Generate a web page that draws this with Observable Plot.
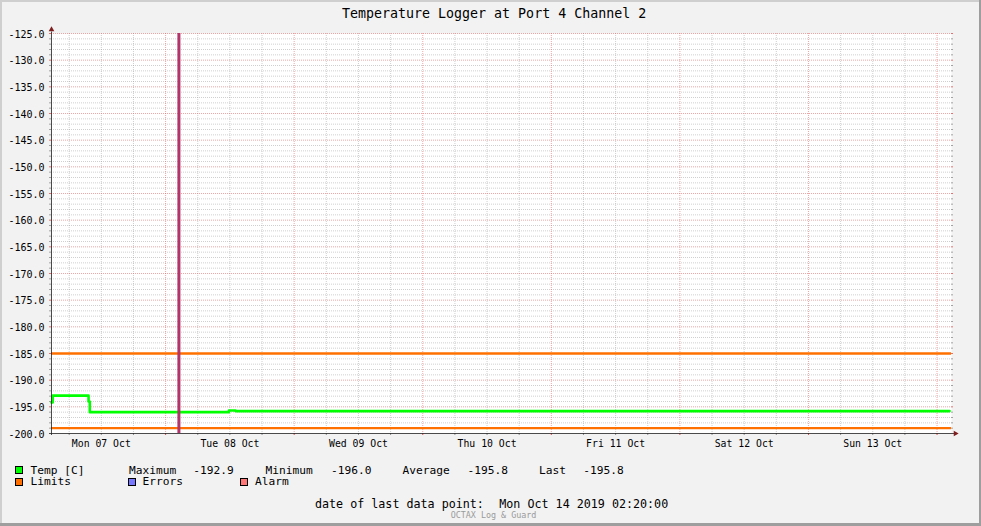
<!DOCTYPE html>
<html><head><meta charset="utf-8">
<script src="https://cdn.jsdelivr.net/npm/d3@7"></script>
<script src="https://cdn.jsdelivr.net/npm/@observablehq/plot@0.6"></script>
<style>
html,body{margin:0;padding:0;background:#f2f2f2;}
#page{position:relative;width:981px;height:526px;background:#f2f2f2;overflow:hidden;font-family:"DejaVu Sans Mono",monospace;color:#000;}
#page svg{position:absolute;left:0;top:0;}
#page svg text{font-family:"DejaVu Sans Mono",monospace !important;}
.t{position:absolute;white-space:pre;line-height:1;}
.sw{position:absolute;width:6px;height:6px;border:1px solid #000;}
.b{position:absolute;}
</style></head><body><div id="page"></div>
<script>
// ---- data ----
const title = "Temperature Logger at Port 4 Channel 2";
const xDomain = ["2019-10-07T02:42Z", "2019-10-14T02:42Z"];
const yDomain = [-200, -125];
const tempTimes = ["2019-10-07T02:42Z", "2019-10-07T02:55Z", "2019-10-07T09:37Z", "2019-10-07T09:51Z", "2019-10-08T11:49Z", "2019-10-08T13:04Z", "2019-10-14T02:20Z"];
const tempValues = [-194.2, -192.9, -194.0, -196.0, -195.7, -195.8, -195.8];
const limitValues = [-185.0, -199.0];
const markerTimes = ["2019-10-08T02:29Z"];
const yTickLabels = [-200, -195, -190, -185, -180, -175, -170, -165, -160, -155, -150, -145, -140, -135, -130, -125];
const dayTicks = ["2019-10-07T12:00Z", "2019-10-08T12:00Z", "2019-10-09T12:00Z", "2019-10-10T12:00Z", "2019-10-11T12:00Z", "2019-10-12T12:00Z", "2019-10-13T12:00Z"];
const dayLabels = ["Mon 07 Oct", "Tue 08 Oct", "Wed 09 Oct", "Thu 10 Oct", "Fri 11 Oct", "Sat 12 Oct", "Sun 13 Oct"];
const legendNames = ["Temp [C]", "Limits", "Errors", "Alarm"];
const legendColors = ["#00ff00", "#ff7000", "#7878ff", "#ff7878"];
const statNames = ["Maximum", "Minimum", "Average", "Last"];
const statValues = ["-192.9", "-196.0", "-195.8", "-195.8"];
const lastDataPoint = "Mon Oct 14 2019 02:20:00";
const footer = "OCTAX Log & Guard";

// ---- build ----
const FONT = "DejaVu Sans Mono";
const t0 = new Date(xDomain[0]), t1 = new Date(xDomain[1]);
const plotW = 900, plotH = 400;
const msPerPx = (t1 - t0) / plotW;
const unitPerPx = (yDomain[1] - yDomain[0]) / plotH;
const temp = tempTimes.map((t, i) => ({t: new Date(t), v: tempValues[i]}));
const allY = d3.range(yDomain[0], yDomain[1] + 1);
const minorY = allY.filter(v => v % 5 !== 0 && v !== yDomain[0]);
const majorY = allY.filter(v => v % 5 === 0 && v !== yDomain[0]);
const hours = d3.utcHour.every(6).range(t0, t1);
const midn = hours.filter(d => d.getUTCHours() === 0);
const six = hours.filter(d => d.getUTCHours() !== 0);
const dt = px => new Date(+t0 + px * msPerPx);
const tEnd = px => new Date(+t1 + px * msPerPx);

const gridGray = {stroke: "#8f8f8f", strokeOpacity: 0.42, strokeDasharray: "1,1"};
const gridRed = {stroke: "#de5050", strokeOpacity: 0.5, strokeDasharray: "1,1"};

const chart = Plot.plot({
  width: 981, height: 460,
  marginLeft: 51, marginRight: 30, marginTop: 33, marginBottom: 27,
  style: {background: "transparent", fontFamily: FONT, color: "#000", overflow: "visible"},
  x: {type: "utc", domain: [t0, t1], axis: null},
  y: {domain: yDomain, axis: null},
  marks: [
    Plot.frame({fill: "white", stroke: null}),
    Plot.ruleY(minorY, gridGray),
    Plot.ruleX(six, gridGray),
    Plot.ruleY(majorY, gridRed),
    Plot.ruleX(midn, gridRed),
    // tick marks
    Plot.ruleY(minorY, {x1: dt(-2), x2: t0, stroke: "#8f8f8f", strokeOpacity: 0.8}),
    Plot.ruleY(minorY, {x1: t1, x2: tEnd(2), stroke: "#8f8f8f", strokeOpacity: 0.8}),
    Plot.ruleY(majorY, {x1: dt(-2), x2: t0, stroke: "#de5050", strokeOpacity: 0.8}),
    Plot.ruleY(majorY, {x1: t1, x2: tEnd(2), stroke: "#de5050", strokeOpacity: 0.8}),
    Plot.ruleX(six, {y1: yDomain[0] - 2 * unitPerPx, y2: yDomain[0], stroke: "#8f8f8f"}),
    Plot.ruleX(midn, {y1: yDomain[0] - 2 * unitPerPx, y2: yDomain[0], stroke: "#de5050"}),
    // data
    Plot.ruleY(limitValues, {stroke: "#ff7000", strokeWidth: 2.4}),
    Plot.line(temp, {x: "t", y: "v", curve: "step-after", stroke: "#00ff00", strokeWidth: 2.6}),
    Plot.ruleX(markerTimes.map(d => new Date(d)), {y1: yDomain[0], y2: yDomain[1], stroke: "#b3346b", strokeWidth: 3}),
    // axes
    Plot.ruleX([t0], {y1: yDomain[0] - 2 * unitPerPx, y2: yDomain[1] + 1.5 * unitPerPx, stroke: "#1f1f1f", strokeOpacity: 0.8}),
    Plot.ruleY([yDomain[0]], {x1: dt(-2), x2: tEnd(3), stroke: "#1f1f1f", strokeOpacity: 0.8}),
    Plot.dot([0], {x: () => t0, y: () => yDomain[1] + 3.9 * unitPerPx, symbol: "triangle", r: 2.1, fill: "#801f1f", stroke: null}),
    Plot.dot([0], {x: () => tEnd(3.9), y: () => yDomain[0], symbol: "triangle", r: 2.1, rotate: 90, fill: "#801f1f", stroke: null}),
    // labels
    Plot.text(yTickLabels, {x: () => t0, y: d => d, text: d => d.toFixed(1), textAnchor: "end", dx: -7, dy: 1, fontSize: "10px", fontFamily: FONT, fill: "#000"}),
    Plot.text(dayTicks, {x: d => new Date(d), y: () => yDomain[0], text: (d, i) => dayLabels[i], dy: 10, fontSize: "9.8px", fontFamily: FONT, fill: "#000"})
  ]
});

const page = document.getElementById("page");
page.appendChild(chart);

function addText(str, left, baseline, size, color) {
  const el = document.createElement("div");
  el.className = "t";
  el.textContent = str;
  el.style.left = left + "px";
  el.style.top = (baseline - 0.846 * size) + "px";
  el.style.fontSize = size + "px";
  if (color) el.style.color = color;
  page.appendChild(el);
}
function addSwatch(color, left, top) {
  const el = document.createElement("div");
  el.className = "sw";
  el.style.left = left + "px";
  el.style.top = top + "px";
  el.style.background = color;
  page.appendChild(el);
}
function addBorder(l, t, w, h, c) {
  const el = document.createElement("div");
  el.className = "b";
  Object.assign(el.style, {left: l + "px", top: t + "px", width: w + "px", height: h + "px", background: c});
  page.appendChild(el);
}

addText(title, 342, 18, 13.3);

// legend row 1
addSwatch(legendColors[0], 15, 466);
addText(legendNames[0], 30.5, 474, 11.2);
const statNameX = [129, 265.5, 402.5, 539];
const statValX = [193.3, 331, 467.5, 583.3];
statNames.forEach((n, i) => { addText(n, statNameX[i], 474, 11.2); addText(statValues[i], statValX[i], 474, 11.2); });
// legend row 2
const row2X = [15, 127.5, 239.5];
const row2TX = [30.5, 142.5, 255];
[1, 2, 3].forEach((k, j) => { addSwatch(legendColors[k], row2X[j], 478); addText(legendNames[k], row2TX[j], 485.7, 11.2); });

addText("date of last data point:", 315, 509, 11.7);
addText(lastDataPoint, 499.3, 509, 11.7);
addText(footer, 450.7, 518, 8.4, "#9a9a9a");

addBorder(0, 0, 981, 2, "#cfcfcf");
addBorder(0, 0, 2, 526, "#cfcfcf");
addBorder(979, 0, 2, 526, "#9e9e9e");
addBorder(0, 523, 981, 3, "#9e9e9e");
</script></body></html>
